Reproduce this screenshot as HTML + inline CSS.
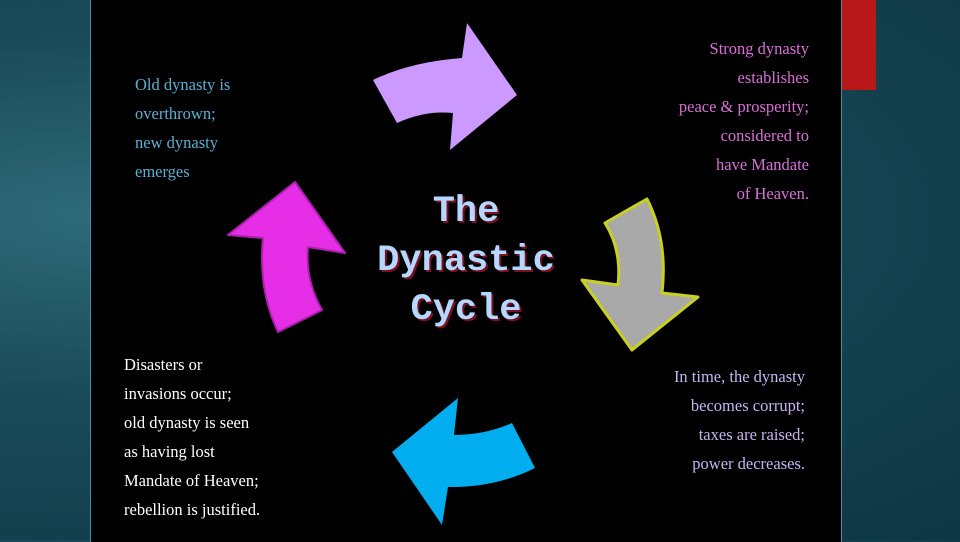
<!DOCTYPE html>
<html><head><style>
body{margin:0;width:960px;height:540px;overflow:hidden;background:radial-gradient(ellipse at 10% 40%,#2e6a78 0%,#1a4a58 40%,#0e3644 100%);position:relative;font-family:"Liberation Serif",serif}
#panel{position:absolute;left:90px;top:-2px;width:750px;height:544px;background:#000;border-left:1px solid #3d8fae;border-right:1px solid #3d8fae}
#red{position:absolute;left:842px;top:0;width:34px;height:90px;background:#b81818}
.t{position:absolute;font-size:16.5px;line-height:29px;white-space:pre}
.title{position:absolute;left:346px;top:188px;width:240px;text-align:center;font-family:"Liberation Mono",monospace;font-weight:bold;font-size:37px;line-height:49px;color:#b4d8ff;text-shadow:2px 2px 0 #7a1020}
</style></head><body>
<div id="panel"></div>
<div id="red"></div>
<svg width="960" height="540" style="position:absolute;left:0;top:0">
<path d="M373,80 Q410,62 462,58 L467,23 L517,95 L450,150 L453,113 Q425,110 397,123 Z" fill="#cc99ff"/>
<path d="M605,223 L647,199 Q668,240 662,293 L698,297 L632,350 L582,280 L618,285 Q622,250 605,223 Z" fill="#a9a9a9" stroke="#c8d020" stroke-width="3" stroke-linejoin="round"/>
<path d="M458,398 L454,435 Q485,435 512,423 L535,468 Q495,488 448,487 L442,525 L392,452 Z" fill="#00aeef"/>
<path d="M295,182 L345,253 L308,247 Q305,280 322,310 L278,332 Q258,290 263,238 L228,235 Z" fill="#e62ee6" stroke="#b020b0" stroke-width="2" stroke-linejoin="round"/>
</svg>
<div class="t" style="left:135px;top:70px;color:#5ab0d0">Old dynasty is
overthrown;
new dynasty
emerges</div>
<div class="t" style="right:151px;top:34px;color:#d870d8;text-align:right">Strong dynasty
establishes
peace &amp; prosperity;
considered to
have Mandate
of Heaven.</div>
<div class="t" style="right:155px;top:362px;color:#c8b4f0;text-align:right">In time, the dynasty
becomes corrupt;
taxes are raised;
power decreases.</div>
<div class="t" style="left:124px;top:350px;color:#fff">Disasters or
invasions occur;
old dynasty is seen
as having lost
Mandate of Heaven;
rebellion is justified.</div>
<div class="title">The<br>Dynastic<br>Cycle</div>
</body></html>
